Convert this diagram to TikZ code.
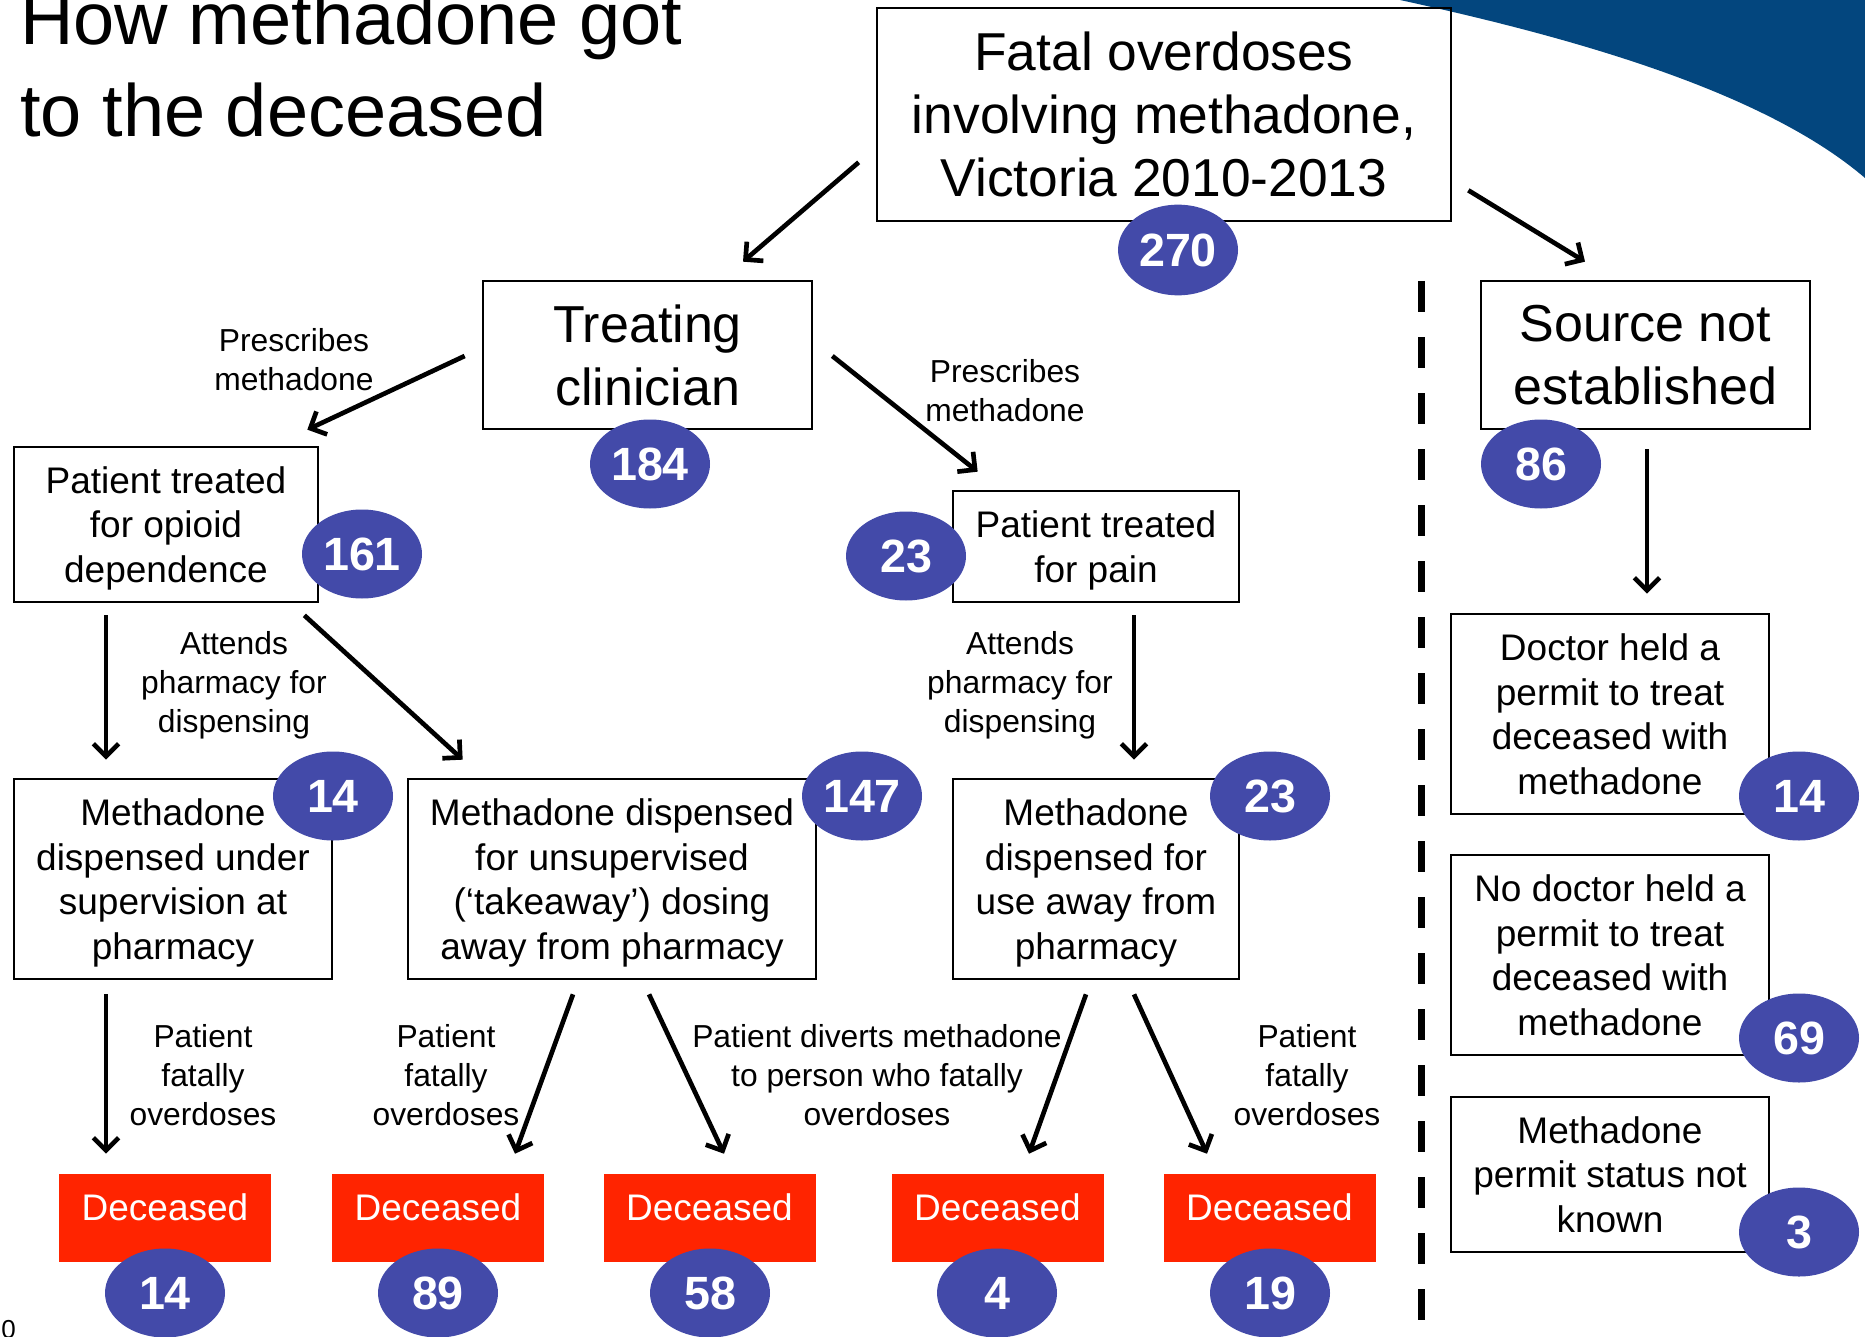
\documentclass[tikz,border=0pt]{standalone}
\usepackage{fontspec}
\setmainfont{Liberation Sans}
\usetikzlibrary{shapes.geometric,arrows.meta,calc}
\definecolor{numblue}{HTML}{434AA9}
\definecolor{decred}{HTML}{FF2400}
\definecolor{swoosh}{HTML}{03467E}
\tikzset{
 box/.style={draw, line width=2pt, align=center, inner sep=0pt, text depth=0pt, font=\fontsize{27.75}{33.5}\selectfont},
 bigbox/.style={box, font=\fontsize{39}{47.25}\selectfont},
 num/.style={ellipse, fill=numblue, text=white, inner sep=0pt, minimum width=90pt, minimum height=66.75pt, font=\fontsize{35}{35}\selectfont\bfseries},
 dec/.style={fill=decred, text=white, inner sep=0pt, minimum width=159pt, minimum height=66pt, text depth=16.5pt, font=\fontsize{27.75}{33}\selectfont},
 lbl/.style={align=center, inner sep=0pt, font=\fontsize{23.85}{29.25}\selectfont},
 arr/.style={line width=3.5pt, -{Straight Barb[length=9.5pt, width=19pt]}},
 divider/.style={line width=5.25pt, dash pattern=on 23.25pt off 18.75pt},
}
\begin{document}
\begin{tikzpicture}[x=0.75pt, y=-0.75pt]
\useasboundingbox (0,0) rectangle (1865,1337);
\fill[white] (0,0) rectangle (1865,1337);
% swoosh
\fill[swoosh] (1400,0) .. controls (1560,35) and (1760,88) .. (1865,178) -- (1865,0) -- cycle;
% title
\node[anchor=north west, inner sep=0pt, align=left, font=\fontsize{55.5}{69}\selectfont] (title) at (20,-9) {How methadone got\\to the deceased};
\node[anchor=north west, inner sep=0pt, font=\fontsize{19.5}{20}\selectfont] (pgno) at (1,1320) {0};
% boxes
\node[bigbox, font=\fontsize{40}{47.25}\selectfont, minimum width=430.5pt, minimum height=159.75pt] (top) at (1164,114.5) {Fatal overdoses\\involving methadone,\\Victoria 2010-2013};
\node[bigbox, minimum width=246.75pt, minimum height=111pt] (clin) at (647.5,355) {Treating\\clinician};
\node[bigbox, minimum width=246.75pt, minimum height=111pt] (src) at (1645.5,355) {Source not\\established};
\node[box, minimum width=228pt, minimum height=116.25pt] (opioid) at (166,524.5) {Patient treated\\for opioid\\dependence};
\node[box, minimum width=214.5pt, minimum height=83.25pt] (pain) at (1096,546.5) {Patient treated\\for pain};
\node[box, minimum width=238.5pt, minimum height=150pt] (sup) at (173,879) {Methadone\\dispensed under\\supervision at\\pharmacy};
\node[box, minimum width=306pt, minimum height=150pt] (take) at (612,879) {Methadone dispensed\\for unsupervised\\(‘takeaway’) dosing\\away from pharmacy};
\node[box, minimum width=214.5pt, minimum height=150pt] (away) at (1096,879) {Methadone\\dispensed for\\use away from\\pharmacy};
\node[box, minimum width=238.5pt, minimum height=150pt] (docyes) at (1610,714) {Doctor held a\\permit to treat\\deceased with\\methadone};
\node[box, minimum width=238.5pt, minimum height=150pt] (docno) at (1610,955) {No doctor held a\\permit to treat\\deceased with\\methadone};
\node[box, minimum width=238.5pt, minimum height=116.25pt] (unknown) at (1610,1174.5) {Methadone\\permit status not\\known};
% deceased
\node[dec] (dec1) at (165,1218) {Deceased};
\node[dec] (dec2) at (438,1218) {Deceased};
\node[dec] (dec3) at (709.5,1218) {Deceased};
\node[dec] (dec4) at (997.5,1218) {Deceased};
\node[dec] (dec5) at (1269.5,1218) {Deceased};
% labels
\node[lbl] (l1) at (294,360) {Prescribes\\methadone};
\node[lbl] (l2) at (1005,391) {Prescribes\\methadone};
\node[lbl] (l3) at (234,685.5) {Attends\\pharmacy for\\dispensing};
\node[lbl] (l4) at (1020,685.5) {Attends\\pharmacy for\\dispensing};
\node[lbl] (l5) at (203,1075.5) {Patient\\fatally\\overdoses};
\node[lbl] (l6) at (446,1075.5) {Patient\\fatally\\overdoses};
\node[lbl] (l7) at (877,1075.5) {Patient diverts methadone\\to person who fatally\\overdoses};
\node[lbl] (l8) at (1307,1075.5) {Patient\\fatally\\overdoses};
% arrows
\draw[arr] ($(top.south west)+(-17,-60)$) -- ($(clin.north)+(95.5,-18)$);
\draw[arr] ($(top.south east)+(16,-32)$) -- ($(src.north)+(-60.5,-18)$);
\draw[arr] ($(clin.west)+(-17,1)$) -- ($(opioid.north east)+(-12,-16)$);
\draw[arr] ($(clin.east)+(19,1)$) -- ($(pain.north west)+(26,-18)$);
\draw[arr] ($(src.south)+(1.5,19)$) -- ($(src.south |- docyes.north)+(1.5,-19)$);
\draw[arr] ($(opioid.south)+(-60,12)$) -- ($(sup.north)+(-67,-18)$);
\draw[arr] ($(opioid.south east)+(-15,12)$) -- ($(take.north west)+(56,-18)$);
\draw[arr] ($(pain.south)+(38,12)$) -- ($(away.north)+(38,-18)$);
\draw[arr] ($(sup.south)+(-67,14)$) -- ($(dec1.north)+(-59,-20)$);
\draw[arr] ($(take.south)+(-39,14)$) -- ($(dec2.north)+(77,-20)$);
\draw[arr] ($(take.south)+(37,14)$) -- ($(dec3.north)+(14.5,-20)$);
\draw[arr] ($(away.south)+(-10,14)$) -- ($(dec4.north)+(31.5,-20)$);
\draw[arr] ($(away.south)+(38,14)$) -- ($(dec5.north)+(-62.5,-20)$);
% divider
\coordinate (divtop) at (1421,281);
\coordinate (divbot) at (1421,1320);
\draw[divider] (divtop) -- (divbot);
% numbers
\node[num, minimum height=68pt] (n270) at (1178,250) {270};
\node[num] (n184) at (650,464) {184};
\node[num] (n86) at (1541,464) {86};
\node[num] (n161) at (362,554) {161};
\node[num] (n23a) at (906,556) {23};
\node[num] (n14a) at (333,796) {14};
\node[num] (n147) at (862,796) {147};
\node[num] (n23b) at (1270,796) {23};
\node[num] (n14b) at (1799,796) {14};
\node[num] (n69) at (1799,1038) {69};
\node[num] (n3) at (1799,1232) {3};
\node[num] (n14c) at (165,1293) {14};
\node[num] (n89) at (438,1293) {89};
\node[num] (n58) at (710,1293) {58};
\node[num] (n4) at (997,1293) {4};
\node[num] (n19) at (1270,1293) {19};
\end{tikzpicture}
\end{document}
